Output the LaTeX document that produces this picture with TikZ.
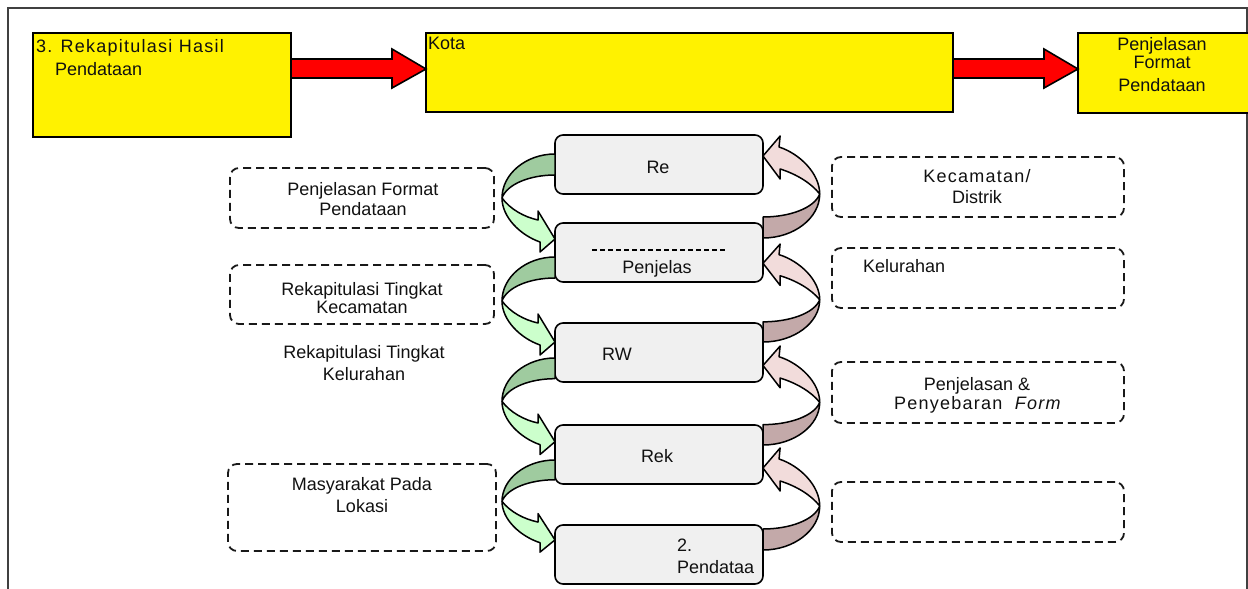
\documentclass[tikz,border=0pt]{standalone}
\usepackage{fontspec}
\setmainfont{Liberation Sans}
\newfontfamily\spacedfont[LetterSpace=7]{Liberation Sans}
\definecolor{gdark}{HTML}{9FCB9F}
\definecolor{glight}{HTML}{CCFFCC}
\definecolor{pdark}{HTML}{C3A9A9}
\definecolor{plight}{HTML}{F2DCDB}
\definecolor{boxgray}{HTML}{F0F0F0}
\definecolor{txtcol}{HTML}{111111}
\newcommand{\greenloop}[3]{%
  \begin{scope}[shift={(#1.north west)}, shift={(0,#2)}, yscale=#3]
    \filldraw[loopline, fill=gdark] (0,0) .. controls (-29,0) and (-53,20) .. (-53,44)
      .. controls (-48,30) and (-25,21) .. (0,21) -- cycle;
    \filldraw[loopline, fill=glight] (-53,44) .. controls (-45,55) and (-31,63) .. (-17,66)
      -- (-17,57) -- (0,85) -- (-15,98) -- (-15,88)
      .. controls (-35,81) and (-53,63) .. (-53,44) -- cycle;
  \end{scope}}
\newcommand{\pinkloop}[3]{%
  \begin{scope}[shift={(#1.north east)}, shift={(0,#2)}, xscale=-1.07, yscale=-#3]
    \filldraw[loopline, fill=pdark] (0,0) .. controls (-29,0) and (-53,20) .. (-53,44)
      .. controls (-48,30) and (-25,21) .. (0,21) -- cycle;
    \filldraw[loopline, fill=plight] (-53,44) .. controls (-45,55) and (-31,64) .. (-16,69)
      -- (-16,59) -- (0,82) -- (-16,102) -- (-15,91)
      .. controls (-35,84) and (-53,64) .. (-53,44) -- cycle;
  \end{scope}}
\begin{document}
\begin{tikzpicture}[x=1pt,y=-1pt,
  every node/.style={inner sep=0pt, outer sep=0pt, text=txtcol, font=\fontsize{18}{20}\selectfont},
  ybox/.style={draw, line width=1.6pt, fill=yellow, anchor=north west},
  cbox/.style={draw, line width=1.6pt, fill=boxgray, rounded corners=8pt, anchor=north west,
    minimum width=208pt, minimum height=59pt},
  dbox/.style={draw=black!90, line width=1.8pt, dash pattern=on 8pt off 5pt,
    rounded corners=9pt, anchor=north west},
  loopline/.style={draw=black, line width=1.5pt, line join=round},
  redarr/.style={draw=black, line width=1.6pt, fill=red, line join=miter},
  txt/.style={anchor=base},
  txtl/.style={anchor=base west}]
\useasboundingbox (0,0) rectangle (1248,589);
% frame
\draw[line width=1.8pt, black!75] (8,592) -- (8,8) -- (1247,8) -- (1247,592);
% top yellow boxes
\node[ybox, minimum width=258pt, minimum height=104pt] (r1) at (33,33) {};
\node[ybox, minimum width=527pt, minimum height=79pt] (k) at (426,33) {};
\node[ybox, minimum width=180pt, minimum height=80pt] (p3) at (1078,33) {};
\node[txtl, font=\spacedfont\fontsize{18}{20}\selectfont] (r1a) at (36,52) {3. Rekapitulasi Hasil};
\node[txtl] (r1b) at (55,75) {Pendataan};
\node[txtl] (ka) at (428,49) {Kota};
\node[txt] (p3a) at (1162,50) {Penjelasan};
\node[txt] (p3b) at (1162,68) {Format};
\node[txt] (p3c) at (1162,91) {Pendataan};
% red block arrows
\draw[redarr] (r1.east |- 0,59) -- (392,59) -- (392,49) -- (k.west |- 0,69) -- (392,88)
  -- (392,78) -- (r1.east |- 0,78) -- cycle;
\draw[redarr] (k.east |- 0,59) -- (1044,59) -- (1044,49) -- (p3.west |- 0,69) -- (1044,88)
  -- (1044,78) -- (k.east |- 0,78) -- cycle;
% central boxes
\node[cbox] (c1) at (555,135) {};
\node[cbox] (c2) at (555,223) {};
\node[cbox] (c3) at (555,323) {};
\node[cbox] (c4) at (555,425) {};
\node[cbox] (c5) at (555,525) {};
% loops
\greenloop{c1}{19}{1}
\greenloop{c2}{34}{1}
\greenloop{c3}{35}{0.985}
\greenloop{c4}{35}{0.94}
\pinkloop{c2}{15}{1.0}
\pinkloop{c3}{19}{0.96}
\pinkloop{c4}{20}{0.97}
\pinkloop{c5}{25}{1.0}
% central texts
\node[txt] (t1) at (658,173) {Re};
\draw[line width=1.5pt, dash pattern=on 5pt off 3pt] (592,250) coordinate (dl1) -- (727,250) coordinate (dl2);
\node[txt] (t2) at (657,273) {Penjelas};
\node[txt] (t3) at (617,360) {RW};
\node[txt] (t4) at (657,462) {Rek};
\node[txtl] (t5a) at (677,551) {2.};
\node[txtl] (t5b) at (677,573) {Pendataa};
% left dashed boxes
\node[dbox, minimum width=264pt, minimum height=60pt] (l1) at (230,168) {};
\node[txt] (l1a) at (363,195) {Penjelasan Format};
\node[txt] (l1b) at (363,215) {Pendataan};
\node[dbox, minimum width=264pt, minimum height=59pt] (l2) at (230,265) {};
\node[txt] (l2a) at (362,295) {Rekapitulasi Tingkat};
\node[txt] (l2b) at (362,313) {Kecamatan};
\node[txt] (l3a) at (364,358) {Rekapitulasi Tingkat};
\node[txt] (l3b) at (364,380) {Kelurahan};
\node[dbox, minimum width=268pt, minimum height=87pt] (l4) at (228,464) {};
\node[txt] (l4a) at (362,490) {Masyarakat Pada};
\node[txt] (l4b) at (362,512) {Lokasi};
% right dashed boxes
\node[dbox, minimum width=292pt, minimum height=60pt] (q1) at (832,157) {};
\node[txt, font=\spacedfont\fontsize{18}{20}\selectfont] (q1a) at (977,182) {Kecamatan/};
\node[txt] (q1b) at (977,203) {Distrik};
\node[dbox, minimum width=292pt, minimum height=60pt] (q2) at (832,248) {};
\node[txtl] (q2a) at (863,272) {Kelurahan};
\node[dbox, minimum width=292pt, minimum height=61pt] (q3) at (832,362) {};
\node[txt] (q3a) at (977,390) {Penjelasan \&};
\node[txtl, font=\spacedfont\fontsize{18}{20}\selectfont] (q3b) at (894,409) {Penyebaran\ \ \textit{Form}};
\node[dbox, minimum width=292pt, minimum height=60pt] (q4) at (832,482) {};
\end{tikzpicture}
\end{document}
